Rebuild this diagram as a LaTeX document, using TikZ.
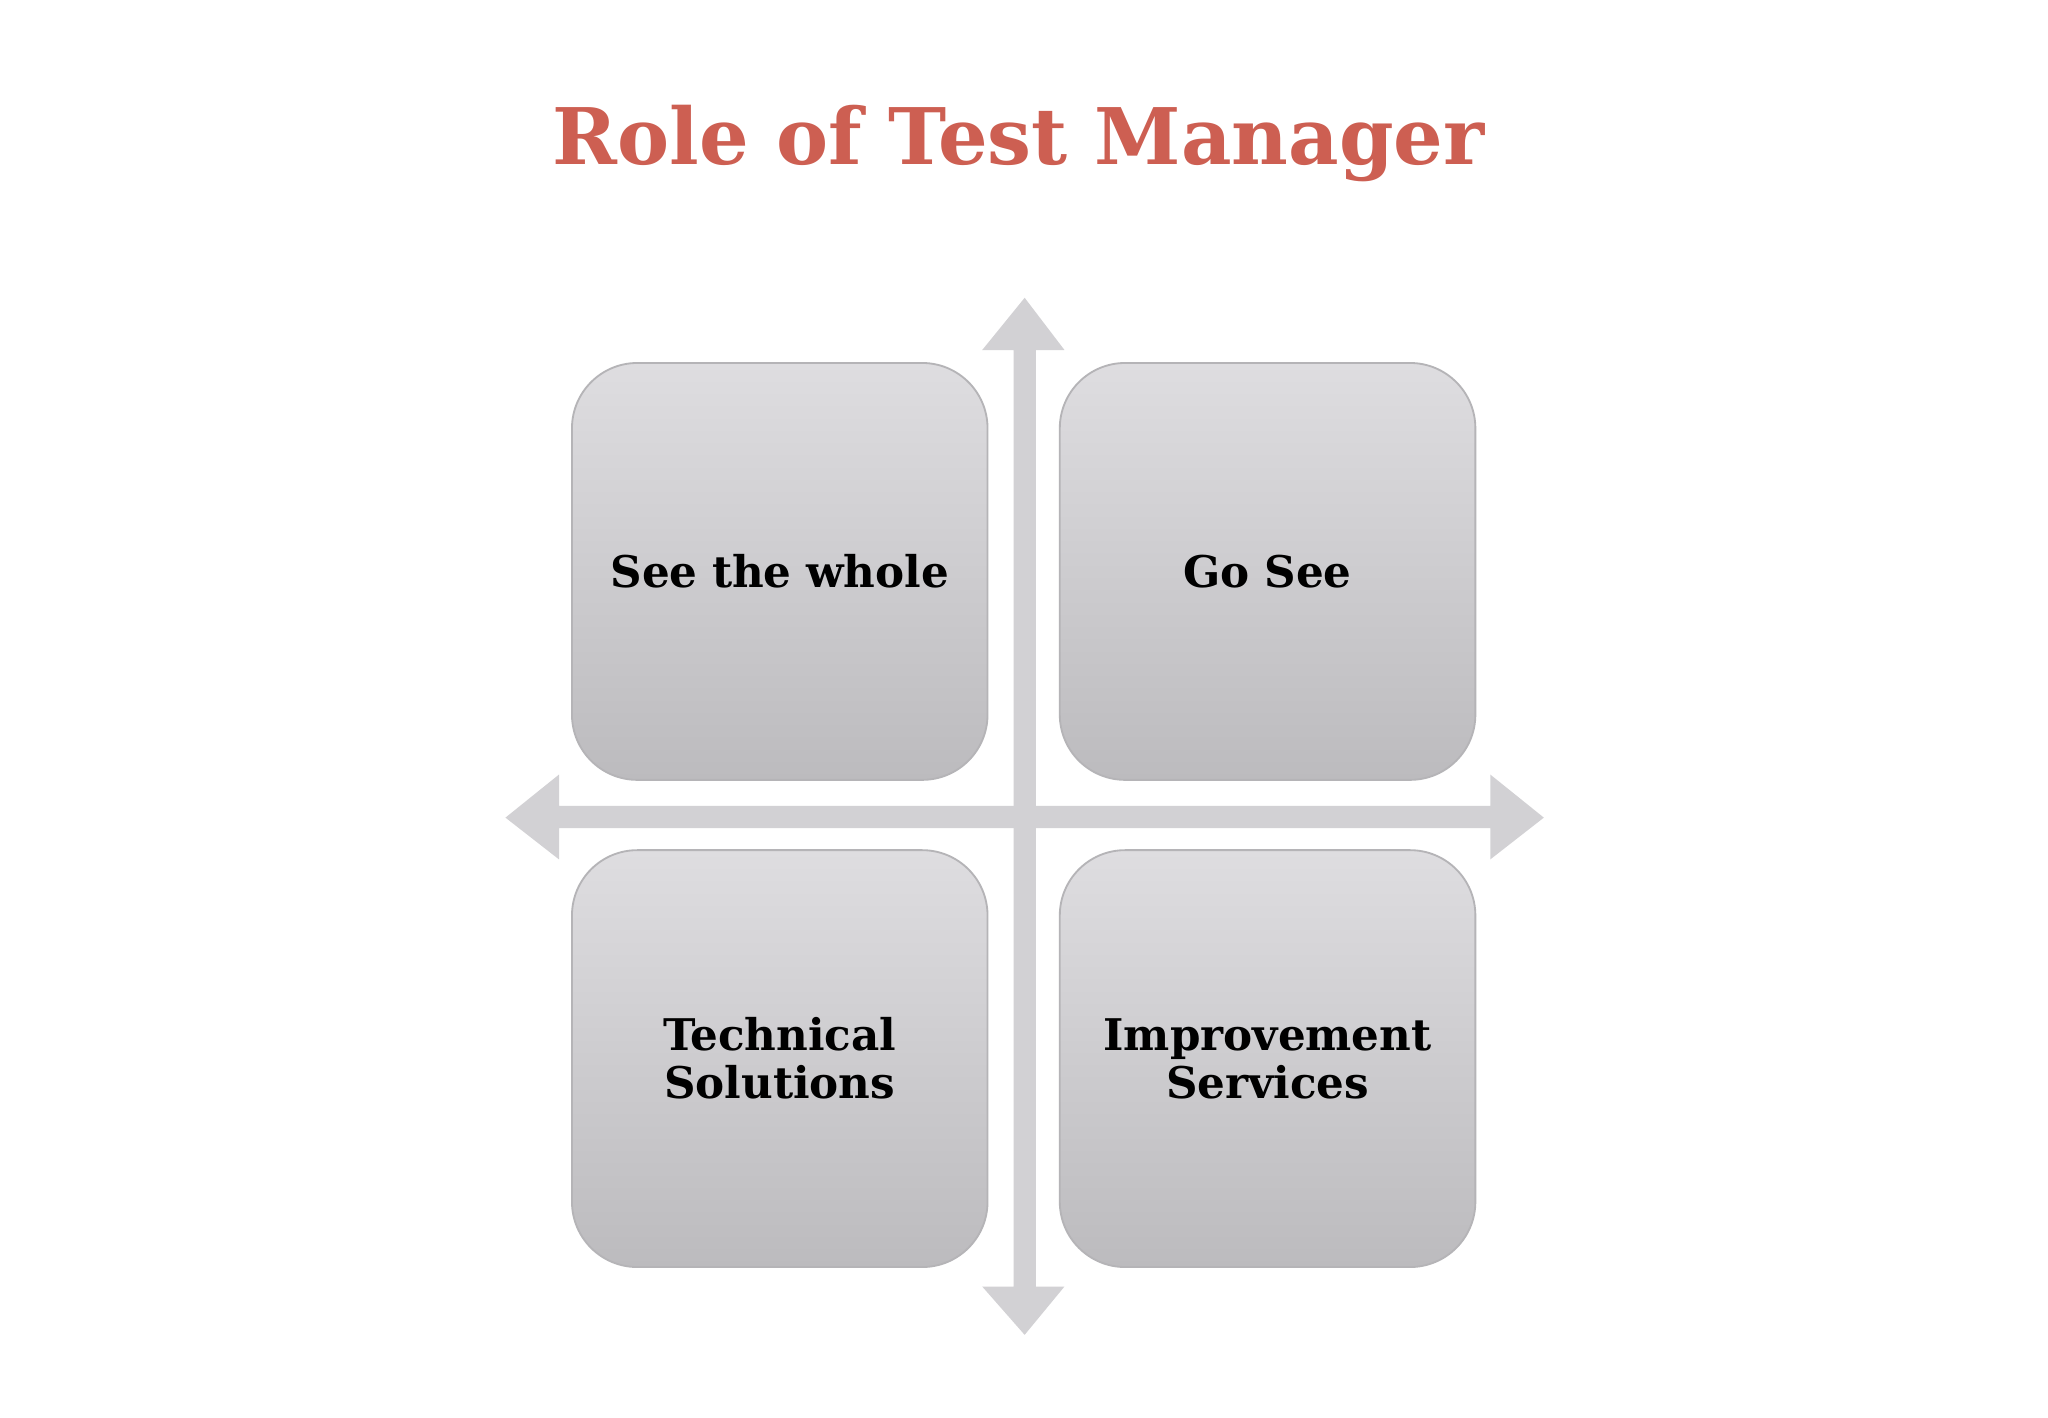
\documentclass[tikz,border=0pt]{standalone}
\usepackage{fontspec}
\setmainfont{DejaVu Serif}
\definecolor{titlered}{HTML}{CD5F52}
\definecolor{arrowgray}{HTML}{D2D1D4}
\definecolor{boxtop}{HTML}{DEDDE0}
\definecolor{boxbot}{HTML}{BCBBBE}
\definecolor{boxedge}{HTML}{B5B4B7}
\tikzset{
  quad/.style={draw=boxedge, line width=0.4pt, rounded corners=0.5cm, top color=boxtop, bottom color=boxbot,
    minimum width=3.18cm, minimum height=3.19cm, inner sep=0pt, text width=3.0cm, align=center,
    font=\bfseries\fontsize{9.5}{10.5}\selectfont, text=black},
}
\begin{document}
\begin{tikzpicture}[x=0.01cm,y=-0.01cm]
\fill[white] (0,0) rectangle (1568,1085);
\useasboundingbox (0,0) rectangle (1568,1085);
\node[font=\bfseries\fontsize{17}{19}\selectfont, text=titlered] (title) at (780,110) {Role of Test Manager};
% cross arrows
\fill[arrowgray] (776,268) -- (752,268) -- (784.5,228) -- (815,268) -- (793,268) -- (793,985) -- (815,985) -- (784.5,1022) -- (752,985) -- (776,985) -- cycle;
\fill[arrowgray] (428,617) -- (428,593) -- (387,626) -- (428,658) -- (428,634) -- (1141,634) -- (1141,658) -- (1182,626) -- (1141,593) -- (1141,617) -- cycle;
\node[quad] (tl) at (597,437.5) {See the whole};
\node[quad] (tr) at (970.5,437.5) {Go See};
\node[quad] (bl) at (597,810.5) {Technical\\Solutions};
\node[quad] (br) at (970.5,810.5) {Improvement\\Services};
\end{tikzpicture}
\end{document}
